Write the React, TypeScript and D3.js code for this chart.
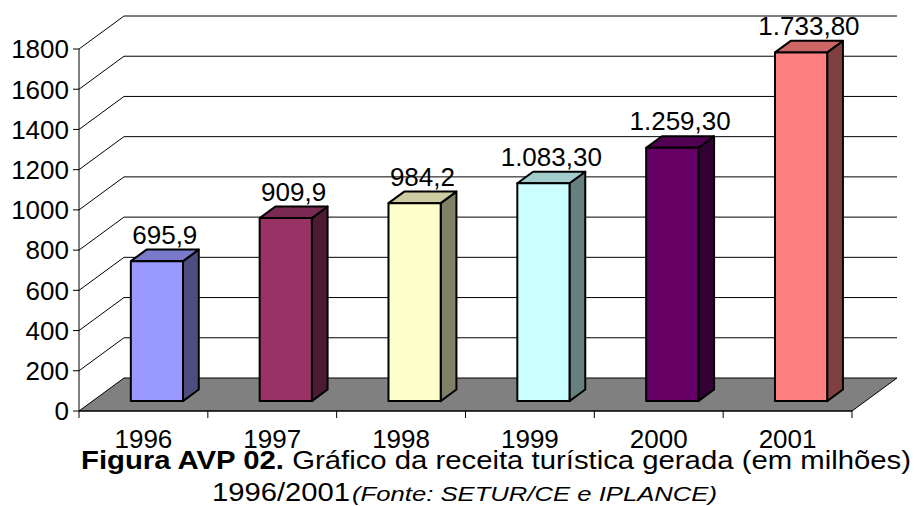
import * as d3 from 'd3';

const YEARS = ['1996', '1997', '1998', '1999', '2000', '2001'];
const VALUES = [695.9, 909.9, 984.2, 1083.3, 1259.3, 1733.8];
const VALUE_LABELS = ['695,9', '909,9', '984,2', '1.083,30', '1.259,30', '1.733,80'];
const BAR_COLORS = ['#9999FF', '#993366', '#FFFFCC', '#CCFFFF', '#660066', '#FF8080'];
const Y_TICKS = [0, 200, 400, 600, 800, 1000, 1200, 1400, 1600, 1800];

const W = 914;
const H = 506;
const FONT = 'Arial, "Liberation Sans", sans-serif';

// depth vector of the 3D box (front plane -> back wall)
const DEPTH = { dx: 45, dy: -33 };
const BAR_FRONT = 0.3;
const BAR_BACK = 0.65;

function shade(c: string, k: number) {
  const rgb = d3.rgb(c);
  return d3.rgb(rgb.r * k, rgb.g * k, rgb.b * k).formatHex();
}

export default function App() {
  const x = d3.scaleBand<string>().domain(YEARS).range([79, 852]).paddingInner(0).paddingOuter(0);
  const y = d3.scaleLinear().domain([0, 1800]).range([411, 49]);
  const bw = x.bandwidth() * 0.405;

  const pt = (px: number, py: number, f: number) => `${px + DEPTH.dx * f},${py + DEPTH.dy * f}`;

  const x0 = x.range()[0];
  const x1 = x.range()[1];
  const y0 = y(0);

  return (
    <svg width={W} height={H} style={{ position: 'fixed', left: 0, top: 0, background: '#fff' }}
      fontFamily={FONT}>
      {/* floor */}
      <polygon
        points={[pt(x0, y0, 0), pt(x1, y0, 0), pt(x1, y0, 1), pt(x0, y0, 1)].join(' ')}
        fill="#808080" stroke="#000" strokeWidth={1} />

      {/* wall gridlines */}
      {Y_TICKS.filter(t => t > 0).map(t => (
        <polyline key={t}
          points={[pt(x0, y(t), 0), pt(x0, y(t), 1), pt(x1, y(t), 1)].join(' ')}
          fill="none" stroke="#000" strokeWidth={1} />
      ))}

      {/* y axis */}
      <line x1={x0} x2={x0} y1={y(1800)} y2={y0} stroke="#000" />
      {Y_TICKS.map(t => (
        <g key={t}>
          <line x1={x0 - 6} x2={x0} y1={y(t)} y2={y(t)} stroke="#000" />
          <text x={x0 - 10} y={y(t)} dy="0.36em" textAnchor="end" fontSize={26}>{t}</text>
        </g>
      ))}

      {/* x axis */}
      <line x1={x0} x2={x1} y1={y0} y2={y0} stroke="#000" />
      {[...YEARS.map(d => x(d)!), x1].map((v, i) => (
        <line key={i} x1={v} x2={v} y1={y0} y2={y0 + 7} stroke="#000" />
      ))}

      {/* bars */}
      {YEARS.map((yr, i) => {
        const cx = x(yr)! + x.bandwidth() / 2;
        const l = cx - bw / 2;
        const r = cx + bw / 2;
        const top = y(VALUES[i]);
        const front = [pt(l, top, BAR_FRONT), pt(r, top, BAR_FRONT), pt(r, y0, BAR_FRONT), pt(l, y0, BAR_FRONT)];
        const side = [pt(r, top, BAR_FRONT), pt(r, top, BAR_BACK), pt(r, y0, BAR_BACK), pt(r, y0, BAR_FRONT)];
        const lid = [pt(l, top, BAR_FRONT), pt(l, top, BAR_BACK), pt(r, top, BAR_BACK), pt(r, top, BAR_FRONT)];
        const mid = (BAR_FRONT + BAR_BACK) / 2;
        return (
          <g key={yr} stroke="#000" strokeWidth={2} strokeLinejoin="round">
            <polygon points={side.join(' ')} fill={shade(BAR_COLORS[i], 0.5)} />
            <polygon points={lid.join(' ')} fill={shade(BAR_COLORS[i], 0.8)} />
            <polygon points={front.join(' ')} fill={BAR_COLORS[i]} />
            <text x={cx + DEPTH.dx * mid} y={top + DEPTH.dy * BAR_BACK - 6}
              textAnchor="middle" fontSize={26} stroke="none">{VALUE_LABELS[i]}</text>
          </g>
        );
      })}

      {/* category labels */}
      {YEARS.map(yr => (
        <text key={yr} x={x(yr)! + x.bandwidth() / 2} y={448} textAnchor="middle" fontSize={26}>{yr}</text>
      ))}

      {/* caption */}
      <text x={81} y={469} fontSize={26} textLength={830} lengthAdjust="spacingAndGlyphs">
        <tspan fontWeight="bold">Figura AVP 02.</tspan>
        <tspan> Gráfico da receita turística gerada (em milhões)</tspan>
      </text>
      <text x={212} y={501} fontSize={26} textLength={138} lengthAdjust="spacingAndGlyphs">1996/2001</text>
      <text x={352} y={501} fontSize={20} fontStyle="italic" textLength={365}
        lengthAdjust="spacingAndGlyphs">(Fonte: SETUR/CE e IPLANCE)</text>
    </svg>
  );
}
